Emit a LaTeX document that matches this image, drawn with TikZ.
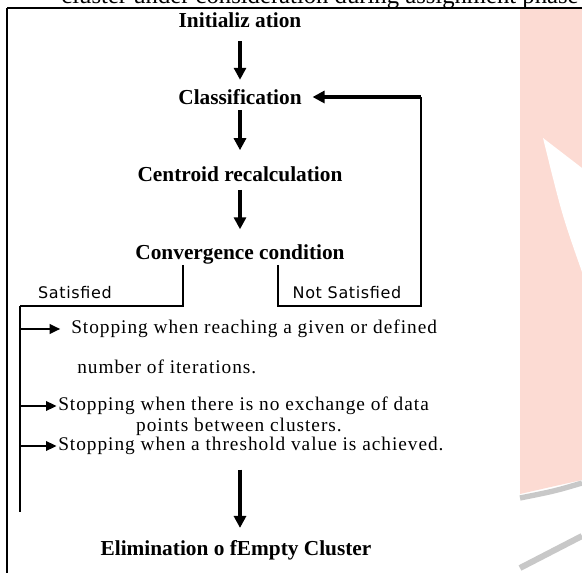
\documentclass[tikz,border=0pt]{standalone}
\usepackage{fontspec}
\setmainfont{Liberation Serif}
\newfontfamily\stopfont[LetterSpace=5]{Liberation Serif}
\newfontfamily\satfont[LetterSpace=4]{DejaVu Sans}
\usetikzlibrary{arrows.meta,calc}
\definecolor{wmpink}{RGB}{252,219,211}
\definecolor{wmgray}{RGB}{200,200,200}
\tikzset{
  stage/.style={font=\bfseries\fontsize{16}{18}\selectfont, inner sep=0pt},
  flow/.style={line width=2.3pt, -{Triangle[length=9pt,width=9pt]}},
  branch/.style={line width=1.9pt, -{Triangle[length=8pt,width=7pt]}},
  wire/.style={line width=1.1pt},
  stoptext/.style={font=\stopfont\fontsize{14.5}{16}\selectfont, inner sep=0pt, anchor=west},
  satlabel/.style={font=\satfont\fontsize{12}{14}\selectfont, inner sep=0pt}
}

\begin{document}
\begin{tikzpicture}[x=0.75pt,y=-0.75pt]
\useasboundingbox (0,0) rectangle (582,573);
\clip (0,0) rectangle (582,573);
\fill[white] (0,0) rectangle (582,573);
% watermark on the right
\fill[wmpink] (520,8) -- (582,8) -- (582,480) .. controls (555,486) .. (520,494) -- cycle;
\fill[white] (543,138) -- (582,168) -- (582,272) .. controls (562,215) .. (543,138) -- cycle;
\draw[wmgray,line width=4pt] (520,498) .. controls (555,491) .. (582,483);
\draw[wmgray,line width=4.5pt] (520,568) -- (582,536);

% page text and frame
\node[anchor=base, font=\fontsize{18.5}{20}\selectfont, inner sep=0pt] (caption) at (320,4) {cluster under consideration during assignment phase};
\draw[line width=1pt] (7,8) -- (582,8);
\draw[line width=1.6pt] (7,8) -- (7,573);

% stages
\node[stage] (init) at (240,20) {Initializ ation};
\node[stage] (class) at (240,97) {Classification};
\node[stage] (cent) at (240,174) {Centroid recalculation};
\node[stage] (conv) at (240,254) {Convergence condition};
\node[stage] (elim) at (236,550) {Elimination o fEmpty Cluster};

\draw[flow, shorten <=10pt, shorten >=7pt] (init) -- (class);
\draw[flow, shorten <=4pt, shorten >=12pt] (class) -- (cent);
\draw[flow, shorten <=6pt, shorten >=11pt] (cent) -- (conv);

% branches
\node[satlabel] (sat) at (75,293) {Satisfied};
\node[satlabel] (notsat) at (347,293) {Not Satisfied};
\coordinate (satdrop) at (183,265);
\coordinate (nsdrop) at (278,265);
\coordinate (railtop) at (20,306);
\coordinate (railend) at (20,512);
\coordinate (loopright) at (421,306);

\draw[wire] (satdrop) |- (railtop);
\draw[line width=1.6pt] (railtop) -- (railend);
\draw[wire] (nsdrop) |- (loopright) -- (loopright |- class.east);
\draw[flow, shorten >=8pt] (loopright |- class.east) -- (class.east);

% stopping criteria
\node[stoptext] (stop1) at (71,329) {Stopping when reaching a given or defined};
\node[stoptext] (stop1b) at (77,367) {number of iterations.};
\node[stoptext] (stop2) at (58,406) {Stopping when there is no exchange of data};
\node[stoptext, anchor=center] (stop2b) at (239,427) {points between clusters.};
\node[stoptext] (stop3) at (58,446) {Stopping when a threshold value is achieved.};

\foreach \s/\gap in {stop1/8pt, stop2/1pt, stop3/1pt}
  \draw[branch, shorten >=\gap] (railtop |- \s.west) -- (\s.west);

\draw[flow, shorten <=11pt, shorten >=9pt] (stop3.south -| init) -- (elim.north -| init);
\end{tikzpicture}
\end{document}
